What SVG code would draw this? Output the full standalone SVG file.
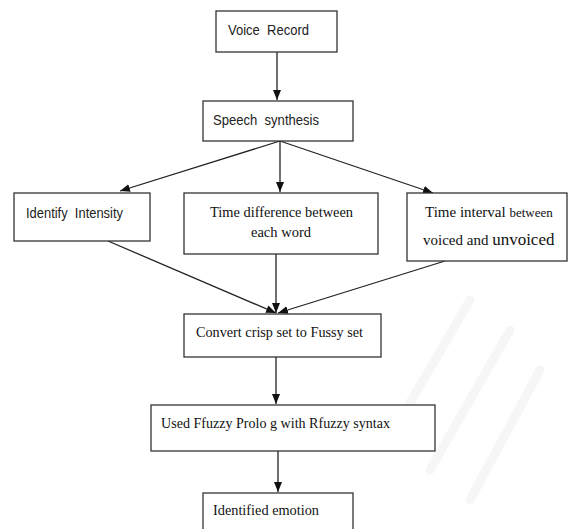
<svg xmlns="http://www.w3.org/2000/svg" width="568" height="529" viewBox="0 0 568 529">
<defs>
<marker id="ah" markerUnits="userSpaceOnUse" markerWidth="10" markerHeight="8" refX="10" refY="4" orient="auto">
<path d="M0,0 L10,4 L0,8 z" fill="#111"/>
</marker>
<style>
.box{fill:#fff;stroke:#333;stroke-width:1.3}
.sans{font-family:"Liberation Sans",Arial,sans-serif;font-size:14px;fill:#222}
.serif{font-family:"Liberation Serif","Times New Roman",serif;font-size:15px;fill:#111}
.con{stroke:#222;stroke-width:1.3;fill:none}
.wm{stroke:#f6f6f6;stroke-width:9;fill:none;stroke-linecap:round}
</style>
</defs>
<rect width="568" height="529" fill="#fff"/>
<g id="watermark">
<path class="wm" d="M470,300 L400,420"/>
<path class="wm" d="M510,330 L430,470"/>
<path class="wm" d="M540,370 L470,500"/>
</g>
<g id="connectors">
<line class="con" x1="277" y1="52" x2="277" y2="100" marker-end="url(#ah)"/>
<line class="con" x1="280" y1="141" x2="120" y2="191" marker-end="url(#ah)"/>
<line class="con" x1="280" y1="141" x2="280" y2="192" marker-end="url(#ah)"/>
<line class="con" x1="280" y1="141" x2="433" y2="193" marker-end="url(#ah)"/>
<line class="con" x1="108" y1="241" x2="276" y2="313" marker-end="url(#ah)"/>
<line class="con" x1="276" y1="254" x2="276" y2="313" marker-end="url(#ah)"/>
<line class="con" x1="445" y1="261" x2="278" y2="313" marker-end="url(#ah)"/>
<line class="con" x1="276" y1="357" x2="276" y2="404" marker-end="url(#ah)"/>
<line class="con" x1="278" y1="451" x2="278" y2="492" marker-end="url(#ah)"/>
</g>
<g id="voice-record">
<rect class="box" x="216" y="11" width="121" height="41"/>
<text class="sans" x="228" y="35" textLength="81" lengthAdjust="spacingAndGlyphs" xml:space="preserve">Voice  Record</text>
</g>
<g id="speech-synthesis">
<rect class="box" x="203" y="101" width="150" height="40"/>
<text class="sans" x="213" y="125" textLength="106" lengthAdjust="spacingAndGlyphs" xml:space="preserve">Speech  synthesis</text>
</g>
<g id="identify-intensity">
<rect class="box" x="14" y="193" width="136" height="48"/>
<text class="sans" x="26" y="218" textLength="97" lengthAdjust="spacingAndGlyphs" xml:space="preserve">Identify  Intensity</text>
</g>
<g id="time-difference">
<rect class="box" x="184" y="193" width="194" height="61"/>
<text class="serif" x="210" y="217" textLength="143" lengthAdjust="spacingAndGlyphs">Time difference between</text>
<text class="serif" x="251" y="237" textLength="60" lengthAdjust="spacingAndGlyphs">each word</text>
</g>
<g id="time-interval">
<rect class="box" x="407" y="193" width="160" height="68"/>
<text class="serif" x="425" y="217">Time interval <tspan font-size="13">between</tspan></text>
<text class="serif" x="423" y="245">voiced and <tspan font-size="17">unvoiced</tspan></text>
</g>
<g id="convert">
<rect class="box" x="184" y="314" width="197" height="43"/>
<text class="serif" x="196" y="337" textLength="167" lengthAdjust="spacingAndGlyphs">Convert crisp set to Fussy set</text>
</g>
<g id="used-prolog">
<rect class="box" x="151" y="405" width="284" height="46"/>
<text class="serif" x="161" y="428" textLength="229" lengthAdjust="spacingAndGlyphs">Used Ffuzzy Prolo g with Rfuzzy syntax</text>
</g>
<g id="identified-emotion">
<rect class="box" x="203" y="493" width="150" height="45"/>
<text class="serif" x="213" y="515" textLength="106" lengthAdjust="spacingAndGlyphs">Identified emotion</text>
</g>
</svg>
